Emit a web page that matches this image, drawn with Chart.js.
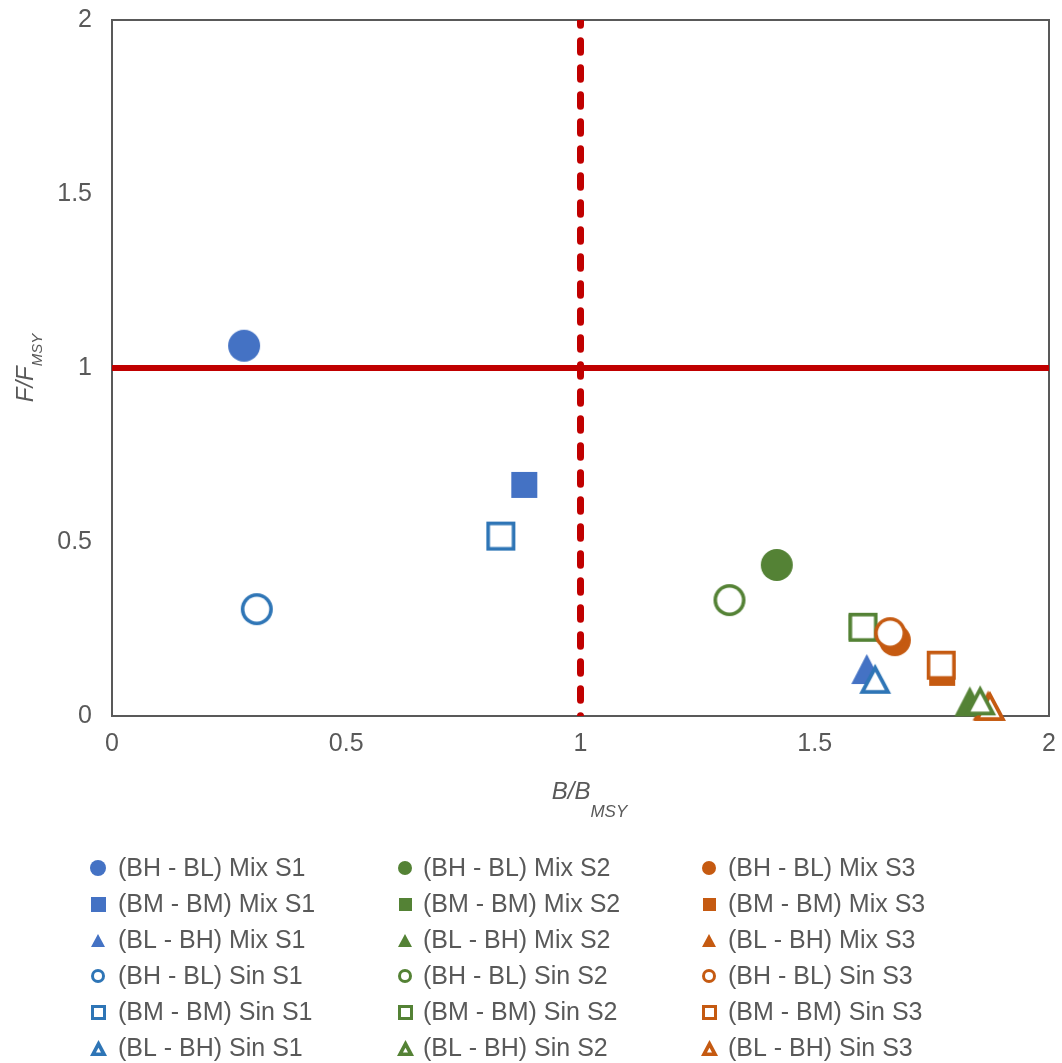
<!DOCTYPE html>
<html>
<head>
<meta charset="utf-8">
<script src="https://cdn.jsdelivr.net/npm/chart.js@4/dist/chart.umd.min.js"></script>
<style>
  html, body { margin: 0; padding: 0; background: #ffffff; }
  #wrap { position: relative; width: 1062px; height: 1063px; }
</style>
</head>
<body>
<div id="wrap"><canvas id="c"></canvas></div>
<script>
// ---------------- DATA ----------------
const legendLabels = [
  '(BH - BL) Mix S1', '(BH - BL) Mix S2', '(BH - BL) Mix S3',
  '(BM - BM) Mix S1', '(BM - BM) Mix S2', '(BM - BM) Mix S3',
  '(BL - BH) Mix S1', '(BL - BH) Mix S2', '(BL - BH) Mix S3',
  '(BH - BL) Sin S1', '(BH - BL) Sin S2', '(BH - BL) Sin S3',
  '(BM - BM) Sin S1', '(BM - BM) Sin S2', '(BM - BM) Sin S3',
  '(BL - BH) Sin S1', '(BL - BH) Sin S2', '(BL - BH) Sin S3'
];
// B/BMSY (x) for each series, same order as legendLabels
const bRatio = [
  0.282, 1.419, 1.671,
  0.880, 1.600, 1.772,
  1.611, 1.831, 1.870,
  0.309, 1.318, 1.661,
  0.830, 1.603, 1.770,
  1.629, 1.853, 1.874
];
// F/FMSY (y) for each series
const fRatio = [
  1.064, 0.434, 0.218,
  0.664, 0.255, 0.124,
  0.135, 0.042, 0.030,
  0.307, 0.333, 0.238,
  0.517, 0.255, 0.146,
  0.107, 0.045, 0.029
];
// reference lines
const hLineB = [0, 2];
const hLineF = [1, 1];
const vLineB = [1, 1];
const vLineF = [2, 0];
const tickLabels = ['0', '0.5', '1', '1.5', '2'];
const xTitle = ['B/B', 'MSY'];
const yTitle = ['F/F', 'MSY'];

// ---------------- STYLES ----------------
const FONT = "'Liberation Sans', Arial, sans-serif";
const TEXT = '#595959';
const filledColors = ['#4472C4', '#548235', '#C55A11'];
const openColors   = ['#2E75B6', '#548235', '#C55A11'];
const RED = '#C00000';

// marker sprite: shape 0 circle, 1 square, 2 triangle (2px transparent margin)
function marker(shape, filled, color, w, h, lw) {
  const m = 2;
  const c = document.createElement('canvas');
  c.width = w + 2 * m; c.height = h + 2 * m;
  const g = c.getContext('2d');
  g.translate(m, m);
  g.fillStyle = color;
  if (shape === 0) {
    g.beginPath(); g.arc(w / 2, h / 2, w / 2, 0, Math.PI * 2); g.fill();
    if (!filled) {
      g.fillStyle = '#ffffff';
      g.beginPath(); g.arc(w / 2, h / 2, w / 2 - lw, 0, Math.PI * 2); g.fill();
    }
  } else if (shape === 1) {
    g.fillRect(0, 0, w, h);
    if (!filled) { g.fillStyle = '#ffffff'; g.fillRect(lw, lw, w - 2 * lw, h - 2 * lw); }
  } else {
    const A = [w / 2, 0], B = [w, h], C = [0, h];
    g.beginPath(); g.moveTo(A[0], A[1]); g.lineTo(B[0], B[1]); g.lineTo(C[0], C[1]); g.closePath(); g.fill();
    if (!filled) {
      const L = Math.sqrt((w / 2) * (w / 2) + h * h);
      const s = (w + 2 * L) / 2;
      const r = (w * h / 2) / s;
      const I = [w / 2, h - r];
      const k = (r - lw) / r;
      const p = P => [I[0] + (P[0] - I[0]) * k, I[1] + (P[1] - I[1]) * k];
      const a = p(A), b = p(B), cc = p(C);
      g.fillStyle = '#ffffff';
      g.beginPath(); g.moveTo(a[0], a[1]); g.lineTo(b[0], b[1]); g.lineTo(cc[0], cc[1]); g.closePath(); g.fill();
    }
  }
  return c;
}

// plot marker sizes [w, h, borderWidth] per shape, filled / open
const plotSize = {
  filled: [[32, 32, 0], [26, 26, 0], [31, 30, 0]],
  open:   [[32, 32, 3.6], [29, 29, 3.6], [32, 30, 3.8]]
};
const legendSize = {
  filled: [[14, 14, 0], [13, 13, 0], [14, 13, 0]],
  open:   [[14, 14, 3], [15, 15, 3], [17, 16, 3.6]]
};

const datasets = [];
legendLabels.forEach((label, i) => {
  const col = i % 3;
  const shape = Math.floor(i / 3) % 3;
  const filled = i < 9;
  const color = filled ? filledColors[col] : openColors[col];
  const ps = (filled ? plotSize.filled : plotSize.open)[shape];
  let ls = (filled ? legendSize.filled : legendSize.open)[shape];
  if (filled && col === 0 && shape < 2) ls = [ls[0] + 2, ls[1] + 2, 0];
  datasets.push({
    label: label,
    data: [{ x: bRatio[i], y: fRatio[i] }],
    order: filled ? 2 : 1,
    clip: false,
    pointStyle: marker(shape, filled, color, ps[0], ps[1], ps[2]),
    pointRadius: 4, pointHoverRadius: 4, pointBorderWidth: 0,
    _legendSprite: marker(shape, filled, color, ls[0], ls[1], ls[2])
  });
});

datasets.push({
  label: 'hline', type: 'line', showLine: true, order: 3, clip: 0,
  data: hLineB.map((b, i) => ({ x: b, y: hLineF[i] })),
  borderColor: RED, borderWidth: 6, pointRadius: 0, pointHoverRadius: 0, fill: false
});
datasets.push({
  label: 'vline', type: 'line', showLine: true, order: 3, clip: 0,
  data: vLineB.map((b, i) => ({ x: b, y: vLineF[i] })),
  borderColor: RED, borderWidth: 7, borderDash: [11.5, 15.5], borderDashOffset: 6.3,
  borderCapStyle: 'round', pointRadius: 0, pointHoverRadius: 0, fill: false
});

// ---------------- PLUGINS ----------------
const frame = {
  id: 'frame',
  beforeDatasetsDraw(chart) {
    const a = chart.chartArea, ctx = chart.ctx;
    ctx.save();
    ctx.strokeStyle = '#595959';
    ctx.lineWidth = 2;
    ctx.strokeRect(a.left, a.top, a.right - a.left, a.bottom - a.top);
    ctx.restore();
  }
};

const titles = {
  id: 'titles',
  afterDraw(chart) {
    const ctx = chart.ctx, a = chart.chartArea;
    ctx.save();
    ctx.fillStyle = TEXT;
    ctx.textBaseline = 'alphabetic';
    ctx.textAlign = 'left';
    const mainF = 'italic 24px ' + FONT, subF = 'italic 17px ' + FONT;
    // X title
    ctx.font = mainF; const w1 = ctx.measureText(xTitle[0]).width;
    ctx.font = subF; const w2 = ctx.measureText(xTitle[1]).width;
    const x0 = (a.left + a.right) / 2 + 9 - (w1 + w2) / 2;
    ctx.font = mainF; ctx.fillText(xTitle[0], x0, 799);
    ctx.font = subF; ctx.fillText(xTitle[1], x0 + w1, 817);
    // Y title
    ctx.font = mainF; const v1 = ctx.measureText(yTitle[0]).width;
    ctx.font = 'italic 15px ' + FONT; const v2 = ctx.measureText(yTitle[1]).width;
    ctx.translate(33, (a.top + a.bottom) / 2 + (v1 + v2) / 2);
    ctx.rotate(-Math.PI / 2);
    ctx.font = mainF; ctx.fillText(yTitle[0], 0, 0);
    ctx.font = 'italic 15px ' + FONT; ctx.fillText(yTitle[1], v1, 9);
    ctx.restore();
  }
};

const legendCols = [{ m: 98, t: 118 }, { m: 405, t: 423 }, { m: 709, t: 728 }];
const legendRowY0 = 868, legendRowStep = 36;
const customLegend = {
  id: 'customLegend',
  afterDraw(chart) {
    const ctx = chart.ctx;
    ctx.save();
    chart.data.datasets.forEach((ds, i) => {
      if (!ds._legendSprite) return;
      const col = i % 3, row = Math.floor(i / 3);
      const x = legendCols[col].m, y = legendRowY0 + row * legendRowStep;
      const im = ds._legendSprite;
      ctx.drawImage(im, Math.round(x - im.width / 2), Math.round(y - im.height / 2));
      ctx.fillStyle = TEXT;
      ctx.font = '25px ' + FONT;
      ctx.textBaseline = 'middle';
      ctx.textAlign = 'left';
      ctx.fillText(ds.label, legendCols[col].t, y + 1);
    });
    ctx.restore();
  }
};

// ---------------- CHART ----------------
new Chart(document.getElementById('c'), {
  type: 'scatter',
  data: { datasets },
  plugins: [frame, titles, customLegend],
  options: {
    responsive: true,
    maintainAspectRatio: false,
    animation: false,
    events: [],
    layout: { padding: { top: 20, right: 13, left: 0, bottom: 0 } },
    plugins: { legend: { display: false }, tooltip: { enabled: false } },
    scales: {
      x: {
        type: 'linear', min: 0, max: 2,
        grid: { display: false, drawTicks: false },
        border: { display: false },
        ticks: {
          stepSize: 0.5, padding: 13, color: TEXT, font: { family: FONT, size: 25 },
          callback: (v, i) => tickLabels[i]
        },
        afterFit(s) { s.height = 347; s.paddingLeft = 0; s.paddingRight = 0; s.paddingTop = 0; s.paddingBottom = 0; }
      },
      y: {
        type: 'linear', min: 0, max: 2,
        grid: { display: false, drawTicks: false },
        border: { display: false },
        ticks: {
          stepSize: 0.5, padding: 20, color: TEXT, font: { family: FONT, size: 25 },
          callback: (v, i) => tickLabels[i]
        },
        afterFit(s) { s.width = 112; s.paddingLeft = 0; s.paddingRight = 0; s.paddingTop = 0; s.paddingBottom = 0; }
      }
    }
  }
});
</script>
</body>
</html>
